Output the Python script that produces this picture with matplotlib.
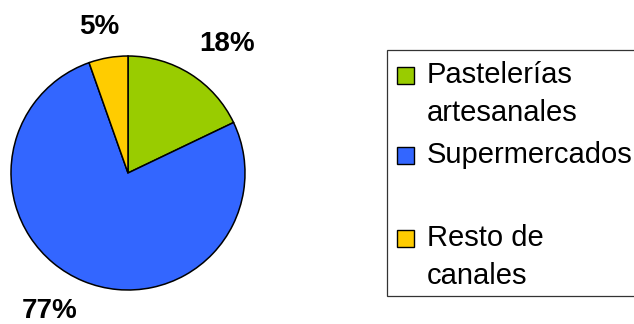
import matplotlib.pyplot as plt
from matplotlib.patches import Rectangle

plt.rcParams['font.family'] = ['Liberation Sans', 'DejaVu Sans']

canales = ['Pastelerías\nartesanales', 'Supermercados\n', 'Resto de\ncanales']
cuota = [17.9, 76.7, 5.4]
etiquetas = ['18%', '77%', '5%']
colores = ['#99CC00', '#3366FF', '#FFCC00']

W, H = 634, 324
fig = plt.figure(figsize=(W / 100, H / 100), dpi=100)

# pie: centre (128,173) px, radius 117 px
cx, cy, r = 128, 173, 117
ax = fig.add_axes([(cx - r) / W, (H - cy - r) / H, 2 * r / W, 2 * r / H])
wedges, texts = ax.pie(cuota, labels=etiquetas, colors=colores, startangle=90,
                       counterclock=False, radius=1, labeldistance=1.3,
                       wedgeprops=dict(edgecolor='black', linewidth=1.1),
                       textprops=dict(fontsize=20, fontweight='bold', ha='center', va='center'))
ax.set_xlim(-1, 1)
ax.set_ylim(-1, 1)
ax.set_aspect('auto')

# nudge labels to where the original puts them
offs = [(0.15, 0.0), (-0.17, 0.02), (-0.03, -0.03)]
for t, (dx, dy) in zip(texts, offs):
    x, y = t.get_position()
    t.set_position((x + dx, y + dy))

# legend drawn by hand (handles sit on first text line)
def px(x, y):
    return x / W, (H - y) / H

bx0, by0 = px(387, 296)
bx1, by1 = px(660, 50)
fig.patches.append(Rectangle((bx0, by0), bx1 - bx0, by1 - by0, transform=fig.transFigure,
                             facecolor='white', edgecolor='#333333', linewidth=0.9, zorder=0))
tops = [67, 147, 230]
for lab, col, top in zip(canales, colores, tops):
    x0, y0 = px(397, top + 17)
    fig.patches.append(Rectangle((x0, y0), 17 / W, 17 / H, transform=fig.transFigure,
                                 facecolor=col, edgecolor='black', linewidth=1.0))
    tx, ty = px(427, top - 6)
    fig.text(tx, ty, lab, fontsize=21, ha='left', va='top', linespacing=1.45)

fig.savefig('out.png', dpi=100)
